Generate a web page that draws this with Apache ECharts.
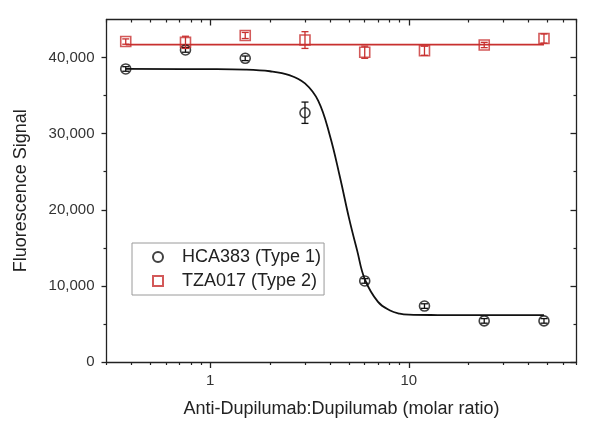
<!DOCTYPE html>
<html>
<head>
<meta charset="utf-8">
<script src="https://cdn.jsdelivr.net/npm/echarts@6/dist/echarts.min.js"></script>
<style>
  html, body { margin: 0; padding: 0; background: #fff; }
  #main { width: 600px; height: 423px; }
</style>
</head>
<body>
<div id="main"></div>
<script>
// molar ratios (x) of the titration
const ratio = [0.375, 0.75, 1.5, 3, 6, 12, 24, 48];

// HCA383 (Type 1)
const hcaSignal = [38500, 41000, 39900, 32750, 10650, 7350, 5400, 5400];
const hcaErr = [300, 300, 300, 1400, 300, 300, 300, 300];

// TZA017 (Type 2)
const tzaSignal = [42100, 42000, 42900, 42300, 40700, 40900, 41650, 42500];
const tzaErr = [350, 800, 400, 1100, 800, 600, 350, 600];

// fitted curves
const hcaFitX = [0.375, 1, 1.5, 2, 2.5, 3, 3.5, 4, 4.5, 5, 5.5, 6, 7, 8, 9, 10, 14, 20, 48];
const hcaFitY = [38500, 38480, 38420, 38200, 37700, 36600, 34300, 29800, 24300, 18900, 14600, 10900, 7900, 6800, 6350, 6220, 6170, 6160, 6150];
const tzaFitX = [0.375, 48];
const tzaFitY = [41700, 41700];

// tick values
const xMajor = [1, 10];
const xMinor = [0.3, 0.4, 0.5, 0.6, 0.7, 0.8, 0.9, 2, 3, 4, 5, 6, 7, 8, 9, 20, 30, 40, 50, 60, 70];
const yMajor = [0, 10000, 20000, 30000, 40000];
const yMinor = [5000, 15000, 25000, 35000];

const RED = '#c8302f';
const FONT = 'Liberation Sans, Arial, sans-serif';

const zip = (xs, ys) => xs.map((x, i) => [x, ys[i]]);
const withErr = (xs, ys, es) => xs.map((x, i) => [x, ys[i], es[i]]);

function errorBar (color) {
  return function (params, api) {
    const x = api.value(0);
    const y = api.value(1);
    const e = api.value(2);
    const hi = api.coord([x, y + e]);
    const lo = api.coord([x, y - e]);
    const style = { stroke: color, lineWidth: 1.3 };
    return {
      type: 'group',
      children: [
        { type: 'line', shape: { x1: hi[0], y1: hi[1], x2: lo[0], y2: lo[1] }, style: style },
        { type: 'line', shape: { x1: hi[0] - 3.5, y1: hi[1], x2: hi[0] + 3.5, y2: hi[1] }, style: style },
        { type: 'line', shape: { x1: lo[0] - 3.5, y1: lo[1], x2: lo[0] + 3.5, y2: lo[1] }, style: style }
      ]
    };
  };
}

const logX = {
  type: 'log',
  logBase: 10,
  min: 0.3,
  max: 70,
  splitLine: { show: false },
  axisLine: { show: false, onZero: false },
  axisLabel: { show: false },
  axisTick: { show: false }
};

const chart = echarts.init(document.getElementById('main'), null, { renderer: 'canvas' });

const option = {
  backgroundColor: '#fff',
  animation: false,
  grid: {
    left: 106.5,
    right: 23.5,
    top: 19.5,
    bottom: 61,
    outerBoundsMode: 'none'
  },
  legend: {
    orient: 'vertical',
    left: 132,
    top: 243,
    padding: [5, 3, 5, 20],
    itemGap: 6,
    itemWidth: 10,
    itemHeight: 10,
    borderColor: '#9a9a9a',
    borderWidth: 1,
    backgroundColor: '#fff',
    textStyle: { fontSize: 18, fontFamily: FONT, color: '#222', padding: [0, 0, 0, 14] },
    data: [
      { name: 'HCA383 (Type 1)', icon: 'circle' },
      { name: 'TZA017 (Type 2)', icon: 'rect' }
    ]
  },
  xAxis: [
    Object.assign({}, logX, {
      position: 'bottom',
      name: 'Anti-Dupilumab:Dupilumab (molar ratio)',
      nameLocation: 'middle',
      nameGap: 38,
      nameTextStyle: { fontSize: 18, fontFamily: FONT, color: '#222' },
      axisLine: { show: true, onZero: false, lineStyle: { color: '#222', width: 1.3 } },
      axisTick: { show: true, customValues: xMajor, length: 6, lineStyle: { color: '#222', width: 1.3 } },
      axisLabel: { show: true, customValues: xMajor, margin: 11, fontSize: 15, fontFamily: FONT, color: '#333' }
    }),
    Object.assign({}, logX, {
      position: 'bottom',
      axisTick: { show: true, customValues: xMinor, length: 3, lineStyle: { color: '#222', width: 1.2 } }
    }),
    Object.assign({}, logX, {
      position: 'top',
      axisLine: { show: true, onZero: false, lineStyle: { color: '#222', width: 1.3 } },
      axisTick: { show: true, inside: true, customValues: xMajor, length: 6, lineStyle: { color: '#222', width: 1.3 } }
    }),
    Object.assign({}, logX, {
      position: 'top',
      axisTick: { show: true, inside: true, customValues: xMinor, length: 3, lineStyle: { color: '#222', width: 1.2 } }
    })
  ],
  yAxis: [
    {
      type: 'value',
      position: 'left',
      min: 0,
      max: 45000,
      name: 'Fluorescence Signal',
      nameLocation: 'middle',
      nameGap: 76,
      nameTextStyle: { fontSize: 18, fontFamily: FONT, color: '#222' },
      splitLine: { show: false },
      axisLine: { show: true, onZero: false, lineStyle: { color: '#222', width: 1.3 } },
      axisTick: { show: true, customValues: yMajor, length: 5, lineStyle: { color: '#222', width: 1.3 } },
      axisLabel: {
        customValues: yMajor,
        margin: 12,
        fontSize: 15,
        fontFamily: FONT,
        color: '#333',
        formatter: v => v.toLocaleString('en-US')
      }
    },
    {
      type: 'value',
      position: 'left',
      min: 0,
      max: 45000,
      splitLine: { show: false },
      axisLine: { show: false },
      axisLabel: { show: false },
      axisTick: { show: true, customValues: yMinor, length: 3, lineStyle: { color: '#222', width: 1.2 } }
    },
    {
      type: 'value',
      position: 'right',
      min: 0,
      max: 45000,
      splitLine: { show: false },
      axisLabel: { show: false },
      axisLine: { show: true, onZero: false, lineStyle: { color: '#222', width: 1.3 } },
      axisTick: { show: true, inside: true, customValues: yMajor, length: 6, lineStyle: { color: '#222', width: 1.3 } }
    },
    {
      type: 'value',
      position: 'right',
      min: 0,
      max: 45000,
      splitLine: { show: false },
      axisLabel: { show: false },
      axisLine: { show: false },
      axisTick: { show: true, inside: true, customValues: yMinor, length: 3, lineStyle: { color: '#222', width: 1.2 } }
    }
  ],
  series: [
    {
      name: 'HCA383 fit',
      type: 'line',
      data: zip(hcaFitX, hcaFitY),
      smooth: 0.4,
      showSymbol: false,
      lineStyle: { color: '#111', width: 1.8 },
      z: 2
    },
    {
      name: 'TZA017 fit',
      type: 'line',
      data: zip(tzaFitX, tzaFitY),
      showSymbol: false,
      lineStyle: { color: RED, width: 1.6 },
      z: 2
    },
    {
      name: 'HCA383 (Type 1)',
      type: 'scatter',
      data: zip(ratio, hcaSignal),
      symbol: 'circle',
      symbolSize: 10,
      itemStyle: { color: 'rgba(255,255,255,0)', borderColor: '#111', borderWidth: 1.6 },
      z: 3
    },
    {
      name: 'TZA017 (Type 2)',
      type: 'scatter',
      data: zip(ratio, tzaSignal),
      symbol: 'rect',
      symbolSize: 10,
      itemStyle: { color: 'rgba(255,255,255,0)', borderColor: RED, borderWidth: 1.6 },
      z: 3
    },
    {
      name: 'HCA383 err',
      type: 'custom',
      data: withErr(ratio, hcaSignal, hcaErr),
      encode: { x: 0, y: 1 },
      renderItem: errorBar('#111'),
      z: 4
    },
    {
      name: 'TZA017 err',
      type: 'custom',
      data: withErr(ratio, tzaSignal, tzaErr),
      encode: { x: 0, y: 1 },
      renderItem: errorBar(RED),
      z: 4
    }
  ]
};

chart.setOption(option);
</script>
</body>
</html>
